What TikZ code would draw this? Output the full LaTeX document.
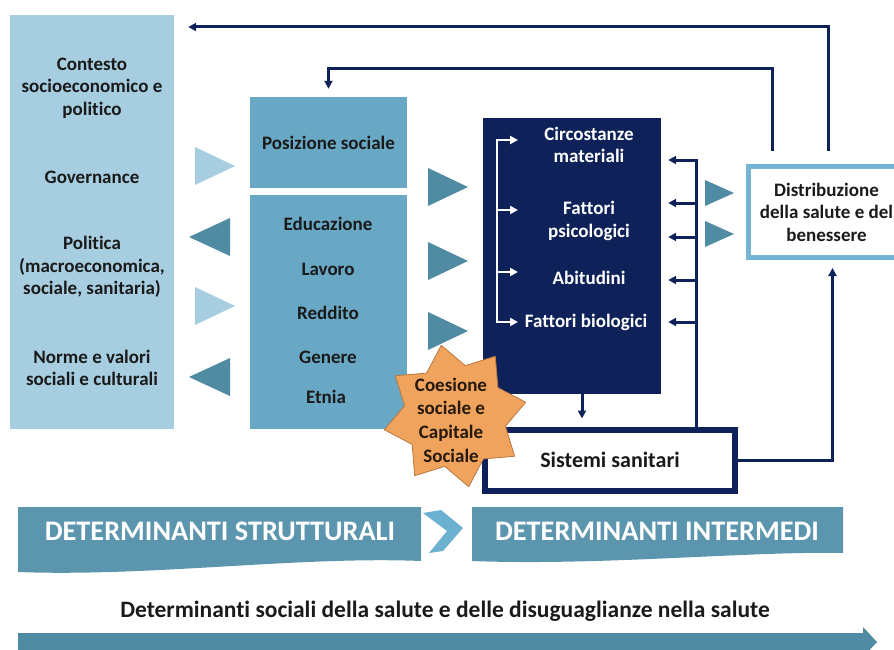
\documentclass[tikz,border=0pt]{standalone}
\usepackage{fontspec}
\setmainfont{Carlito}[Ligatures=NoCommon]
\usepackage{tikz}
\usetikzlibrary{arrows.meta, shapes.geometric, positioning}

\definecolor{cLight}{HTML}{A6CDE0}
\definecolor{cMid}{HTML}{69A8C5}
\definecolor{cTeal}{HTML}{4F8BA3}
\definecolor{cNavy}{HTML}{0E2259}
\definecolor{cDist}{HTML}{72B4D2}
\definecolor{cOrange}{HTML}{EFA35C}
\definecolor{cOrEdge}{HTML}{B8783E}
\definecolor{cBand}{HTML}{5C95AE}
\definecolor{cChev}{HTML}{6CB2D0}
\definecolor{cText}{HTML}{1A1A1A}

\begin{document}
\begin{tikzpicture}[x=1pt, y=-1pt, >={Triangle[length=8pt,width=8pt]}]
    \tikzstyle{box}=[shape=rectangle, draw=none, inner sep=0pt]
    \tikzstyle{lbl}=[font=\fontsize{19}{22.5}\selectfont\bfseries, align=center, text=cText]
    \tikzstyle{wlbl}=[lbl, text=white]
    \tikzstyle{bnr}=[font=\fontsize{28.3}{30}\selectfont\bfseries, text=white]
    \tikzstyle{nl}=[draw=cNavy, line width=3pt]
    \tikzstyle{wl}=[draw=white, line width=2.6pt]

    \useasboundingbox (0,0) rectangle (894,650);

    % colonne
    \node[box, fill=cLight, minimum width=164, minimum height=414] (ctx) at (92,222) {};
        \node[lbl] (ctx1) at (92,88)  {Contesto\\socioeconomico e\\politico};
        \node[lbl] (ctx2) at (92,177) {Governance};
        \node[lbl] (ctx3) at (92,267) {Politica\\(macroeconomica,\\sociale, sanitaria)};
        \node[lbl] (ctx4) at (92,368) {Norme e valori\\sociali e culturali};

    \node[box, fill=cMid, minimum width=157, minimum height=91, lbl] (pos) at (328.5,142.5) {Posizione sociale};
    \node[box, fill=cMid, minimum width=157, minimum height=234] (soc) at (328.5,312) {};
        \node[lbl] (soc1) at (328,224) {Educazione};
        \node[lbl] (soc2) at (328,269) {Lavoro};
        \node[lbl] (soc3) at (328,313) {Reddito};
        \node[lbl] (soc4) at (328,357) {Genere};
        \node[lbl] (soc5) at (326,397) {Etnia};

    \node[box, fill=cNavy, minimum width=178, minimum height=276] (fatt) at (572,256) {};
        \node[wlbl] (f1) at (589,145) {Circostanze\\materiali};
        \node[wlbl] (f2) at (589,221) {Fattori\\psicologici};
        \node[wlbl] (f3) at (589,278) {Abitudini};
        \node[wlbl] (f4) at (586,322) {Fattori biologici};

    \node[box, draw=cNavy, line width=6pt, fill=white, minimum width=250, minimum height=61, lbl, font=\fontsize{22}{26}\selectfont\bfseries] (sist) at (610,460) {Sistemi sanitari};
    \node[box, draw=cDist, line width=5pt, fill=white, minimum width=157, minimum height=91, lbl] (distr) at (826.5,212) {Distribuzione\\della salute e del\\benessere};

    \node[star, star points=8, star point ratio=1.4, minimum size=144, rotate=11, fill=cOrange, draw=cOrEdge, line width=0.8pt] (star) at (455,416) {};
        \node[lbl, font=\fontsize{19}{23.7}\selectfont\bfseries, text=black!80!brown] (coes) at (451,420) {Coesione\\sociale e\\Capitale\\Sociale};

    % triangoli
    \foreach \y in {166,306}
        \fill[cLight] (195,\y-19) -- (235,\y) -- (195,\y+19) -- cycle;
    \foreach \y in {237,377}
        \fill[cTeal] (230,\y-19) -- (189,\y) -- (230,\y+19) -- cycle;
    \foreach \y in {187,261,331}
        \fill[cTeal] (428,\y-19) -- (468,\y) -- (428,\y+19) -- cycle;
    \foreach \y in {193,234}
        \fill[cTeal] (705,\y-13) -- (734,\y) -- (705,\y+13) -- cycle;

    % frecce bianche
    \coordinate (brk) at (497,181);
    \foreach \i/\y in {1/140,2/210,3/272,4/322}
        \coordinate (in\i) at (518,\y);
    \draw[wl,->] (brk) |- (in1);
    \draw[wl,->] (brk) |- (in4);
    \draw[wl,->] (brk |- in2) -- (in2);
    \draw[wl,->] (brk |- in3) -- (in3);

    % ritorni
    \draw[nl,->,shorten >=7] (sist.north -| 696,0) |- (fatt.east |- 0,160);
    \foreach \y in {203,237,280,322}
        \draw[nl,->,shorten >=7] (696,\y) -- (fatt.east |- 0,\y);
    \draw[nl,->,shorten >=8] (fatt.south -| 582,0) -- (sist.north -| 582,0);
    \draw[nl,->,shorten >=8] (sist.east) -| ([xshift=6]distr.south);
    \draw[nl,->,shorten >=14] ([xshift=1.5,yshift=13]distr.north) |- (ctx.east |- 0,27);
    \draw[nl,->,shorten >=8] ([xshift=-54.5,yshift=13]distr.north) |- (pos.north |- 0,69) -- (pos.north);

    % fasce
    \fill[cBand] (18,507) -- (421,507) -- (421,561) .. controls (300,556) and (150,577) .. (18,572) -- cycle;
    \node[bnr] (strut) at (220,531) {DETERMINANTI STRUTTURALI};
    \fill[cChev] (423,513) -- (441,510) -- (463,528) -- (443,551) -- (429,553) -- (447,531) -- cycle;
    \fill[cBand] (472,507) -- (843,507) -- (843,553) .. controls (750,551) and (600,566) .. (472,561) -- cycle;
    \node[bnr] (interm) at (657,531) {DETERMINANTI INTERMEDI};

    \node[font=\fontsize{23.5}{26}\selectfont\bfseries, text=cText] (ttl) at (445,611) {Determinanti sociali della salute e delle disuguaglianze nella salute};
    \fill[cTeal] (18,633) -- (863,633) -- (863,627) -- (877,642) -- (863,657) -- (863,652) -- (18,652) -- cycle;
\end{tikzpicture}
\end{document}
